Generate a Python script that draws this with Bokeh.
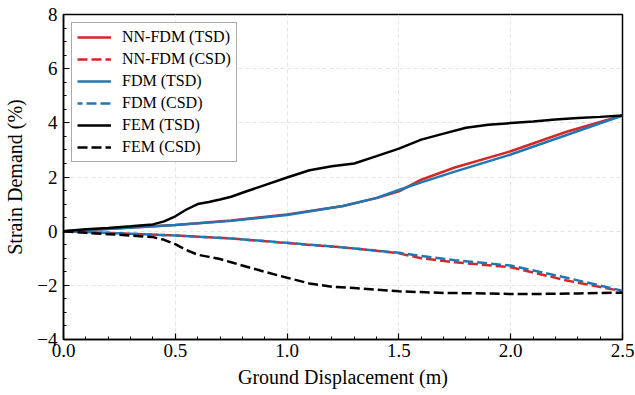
import numpy as np
from bokeh.plotting import figure
from bokeh.models import FixedTicker, Legend, LegendItem, PrintfTickFormatter
from bokeh.embed import file_html
from bokeh.resources import INLINE

# Ground displacement (m)
x_fem = [0.0, 0.1, 0.2, 0.3, 0.4, 0.45, 0.5, 0.55, 0.6, 0.65, 0.7, 0.75, 0.8, 0.9, 1.0,
         1.1, 1.2, 1.3, 1.4, 1.5, 1.6, 1.7, 1.8, 1.9, 2.0, 2.1, 2.2, 2.3, 2.4, 2.5]
fem_tsd = [0.0, 0.07, 0.12, 0.18, 0.25, 0.36, 0.55, 0.8, 1.0, 1.08, 1.17, 1.27, 1.42, 1.7, 1.98,
           2.25, 2.4, 2.5, 2.77, 3.05, 3.38, 3.6, 3.82, 3.93, 3.99, 4.05, 4.12, 4.18, 4.22, 4.27]
fem_csd = [0.0, -0.06, -0.11, -0.16, -0.22, -0.32, -0.48, -0.7, -0.87, -0.95, -1.03, -1.15, -1.27, -1.5, -1.72,
           -1.93, -2.05, -2.1, -2.16, -2.22, -2.25, -2.28, -2.29, -2.3, -2.32, -2.32, -2.31, -2.3, -2.28, -2.27]

x_fdm = [0.0, 0.25, 0.5, 0.75, 1.0, 1.25, 1.4, 1.5, 1.6, 1.75, 2.0, 2.25, 2.5]
fdm_tsd = [0.0, 0.11, 0.23, 0.38, 0.6, 0.93, 1.23, 1.52, 1.8, 2.2, 2.83, 3.55, 4.27]
nn_tsd = [0.0, 0.11, 0.23, 0.39, 0.62, 0.93, 1.22, 1.47, 1.9, 2.35, 2.95, 3.67, 4.27]
fdm_csd = [0.0, -0.08, -0.16, -0.27, -0.43, -0.6, -0.72, -0.8, -0.92, -1.07, -1.27, -1.72, -2.2]
nn_csd = [0.0, -0.08, -0.16, -0.27, -0.44, -0.6, -0.72, -0.82, -1.0, -1.15, -1.33, -1.82, -2.22]

x_ticks = [0.0, 0.5, 1.0, 1.5, 2.0, 2.5]
y_ticks = [-4, -2, 0, 2, 4, 6, 8]

RED = "#d62728"
BLUE = "#1f77b4"
FONT = "Liberation Serif"

p = figure(width=635, height=395, x_range=(0, 2.5), y_range=(-4, 8),
           output_backend="svg", toolbar_location=None,
           min_border_left=63, min_border_right=13, min_border_top=14, min_border_bottom=56)

r1 = p.line(x_fdm, nn_tsd, line_color=RED, line_width=2.5)
r2 = p.line(x_fdm, nn_csd, line_color=RED, line_width=2.5, line_dash="10 4")
r3 = p.line(x_fdm, fdm_tsd, line_color=BLUE, line_width=2.5)
r4 = p.line(x_fdm, fdm_csd, line_color=BLUE, line_width=2.5, line_dash="10 4", line_dash_offset=5)
r5 = p.line(x_fem, fem_tsd, line_color="black", line_width=2.5)
r6 = p.line(x_fem, fem_csd, line_color="black", line_width=2.5, line_dash="10 4")

legend = Legend(items=[
    LegendItem(label="NN-FDM (TSD)", renderers=[r1]),
    LegendItem(label="NN-FDM (CSD)", renderers=[r2]),
    LegendItem(label="FDM (TSD)", renderers=[r3]),
    LegendItem(label="FDM (CSD)", renderers=[r4]),
    LegendItem(label="FEM (TSD)", renderers=[r5]),
    LegendItem(label="FEM (CSD)", renderers=[r6]),
], location="top_left")
legend.label_text_font = FONT
legend.label_text_font_size = "16px"
legend.label_text_color = "black"
legend.glyph_width = 34
legend.glyph_height = 18
legend.label_height = 18
legend.spacing = 4
legend.padding = 5
legend.margin = 8
legend.label_standoff = 11
legend.border_line_color = "#555555"
legend.border_line_width = 1
legend.background_fill_alpha = 0.9
p.add_layout(legend)

p.xaxis.ticker = FixedTicker(ticks=x_ticks, minor_ticks=list(np.round(np.arange(0, 2.51, 0.1), 2)))
p.yaxis.ticker = FixedTicker(ticks=y_ticks, minor_ticks=list(np.arange(-4, 8.01, 0.5)))
p.xaxis.formatter = PrintfTickFormatter(format="%.1f")
p.yaxis.major_label_overrides = {-4: "\u22124", -2: "\u22122"}

for ax in (p.xaxis, p.yaxis):
    ax.major_label_text_font = FONT
    ax.major_label_text_font_size = "19px"
    ax.major_label_text_color = "black"
    ax.axis_label_text_font = FONT
    ax.axis_label_text_font_size = "20px"
    ax.axis_label_text_font_style = "normal"
    ax.axis_label_text_color = "black"
    ax.major_tick_in = 6
    ax.major_tick_out = 0
    ax.minor_tick_in = 3
    ax.minor_tick_out = 0
    ax.axis_line_color = "black"
    ax.axis_line_width = 1.5
    ax.major_tick_line_width = 1.2
    ax.major_tick_line_color = "black"
    ax.minor_tick_line_color = "black"

p.xaxis.major_label_standoff = 4
p.yaxis.major_label_standoff = 6
p.xaxis.axis_label_standoff = 6
p.yaxis.axis_label_standoff = 8
p.xaxis.axis_label = "Ground Displacement (m)"
p.yaxis.axis_label = "Strain Demand (%)"

p.outline_line_color = "black"
p.outline_line_width = 1.5
p.xgrid.grid_line_color = "#dddddd"
p.ygrid.grid_line_color = "#dddddd"
p.xgrid.grid_line_dash = "4 3"
p.ygrid.grid_line_dash = "4 3"
p.xgrid.grid_line_width = 0.8
p.ygrid.grid_line_width = 0.8

open("out.html", "w").write(file_html(p, INLINE))
